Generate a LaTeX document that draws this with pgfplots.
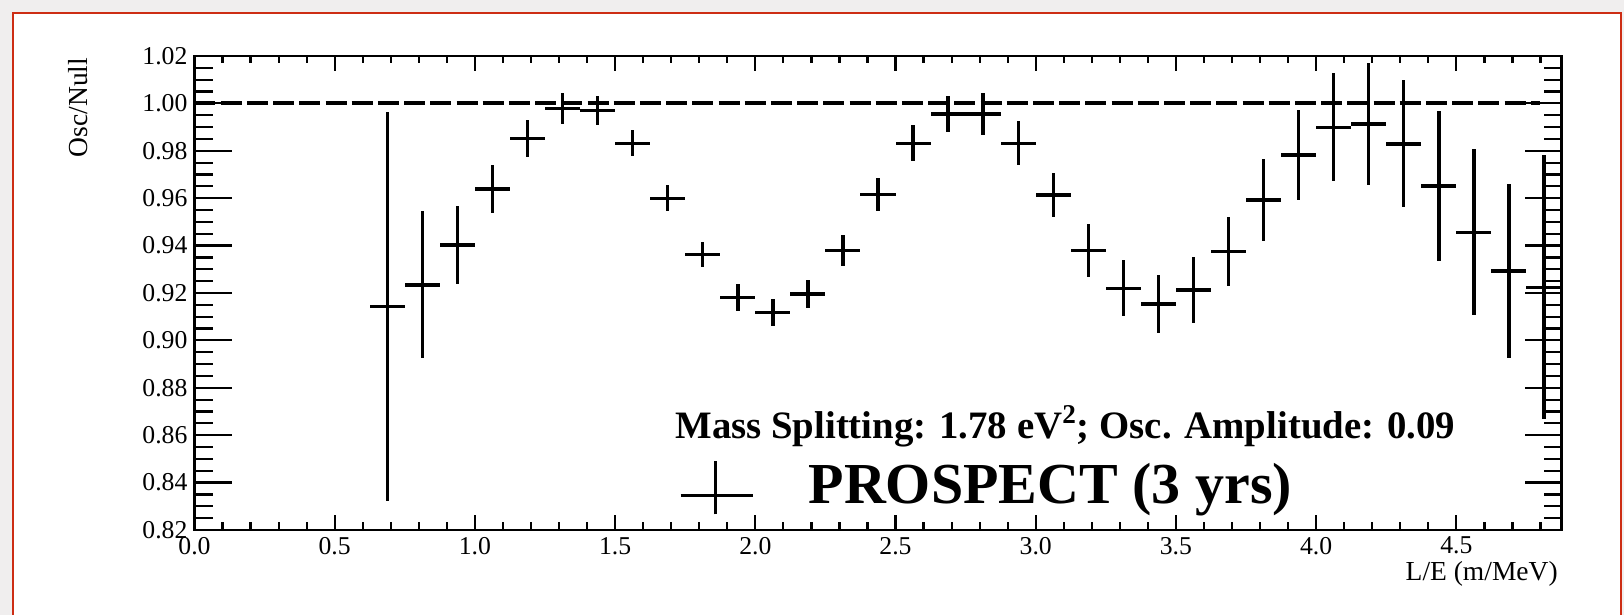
\documentclass[border=0pt]{standalone}
\usepackage{pgfplots}
\pgfplotsset{compat=1.18}
\usepackage{pgfplotstable}
\usepackage{fontspec}
\setmainfont{Liberation Serif}
\definecolor{rootred}{RGB}{205,45,20}
\definecolor{outergray}{RGB}{240,238,238}
\pgfplotstableread{
x y e
0.6875 0.9142 0.0820
0.8125 0.9234 0.0310
0.9375 0.9403 0.0165
1.0625 0.9639 0.0102
1.1875 0.9853 0.0079
1.3125 0.9979 0.0066
1.4375 0.9969 0.0061
1.5625 0.9832 0.0055
1.6875 0.9599 0.0055
1.8125 0.9363 0.0054
1.9375 0.9182 0.0056
2.0625 0.9118 0.0056
2.1875 0.9196 0.0060
2.3125 0.9379 0.0064
2.4375 0.9616 0.0068
2.5625 0.9832 0.0075
2.6875 0.9955 0.0077
2.8125 0.9955 0.0089
2.9375 0.9832 0.0093
3.0625 0.9613 0.0093
3.1875 0.9379 0.0110
3.3125 0.9220 0.0118
3.4375 0.9154 0.0123
3.5625 0.9213 0.0140
3.6875 0.9376 0.0145
3.8125 0.9592 0.0172
3.9375 0.9782 0.0190
4.0625 0.9899 0.0228
4.1875 0.9913 0.0257
4.3125 0.9829 0.0268
4.4375 0.9651 0.0317
4.5625 0.9456 0.0350
4.6875 0.9293 0.0366
4.8125 0.9224 0.0557
}\datatable
\pgfplotsset{rootaxis/.style={
  scale only axis, width=683.5pt, height=237pt,
  xmin=0, xmax=4.875, ymin=0.82, ymax=1.02,
  at={(97.25pt,42.5pt)}, anchor=south west,
  axis line style={line width=1.3pt, black},
  tick style={line width=1.1pt, black},
  tick align=inside,
  tick label style={font=\fontsize{12.85}{14}\selectfont},
}}
\begin{document}
\begin{tikzpicture}
\useasboundingbox (0pt,0pt) rectangle (812pt,307.5pt);
\clip (0pt,0pt) rectangle (812pt,307.5pt);
\fill[outergray] (0pt,0pt) rectangle (812pt,307.5pt);
\filldraw[fill=white, draw=rootred, line width=1pt] (6.65pt,-5pt) rectangle (810.5pt,300.85pt);
% x ticks axis
\begin{axis}[rootaxis,
  ytick=\empty,
  xtick={0,0.5,1,1.5,2,2.5,3,3.5,4,4.5},
  minor xtick={0.1,0.2,0.3,0.4,0.6,0.7,0.8,0.9,1.1,1.2,1.3,1.4,1.6,1.7,1.8,1.9,2.1,2.2,2.3,2.4,2.6,2.7,2.8,2.9,3.1,3.2,3.3,3.4,3.6,3.7,3.8,3.9,4.1,4.2,4.3,4.4,4.6,4.7,4.8},
  major tick length=7.5pt, minor tick length=3.75pt,
  xticklabel style={/pgf/number format/.cd, fixed, fixed zerofill, precision=1, assume math mode=true},
  xlabel={L/E (m/MeV)},
  xlabel style={at={(rel axis cs:0.9975,-0.107)}, anchor=base east, inner sep=0pt, font=\fontsize{13.75}{15}\selectfont},
]
\end{axis}
% y ticks axis with data
\begin{axis}[rootaxis,
  xtick=\empty,
  ytick={0.82,0.84,0.86,0.88,0.90,0.92,0.94,0.96,0.98,1.00,1.02},
  minor y tick num=3,
  major tick length=18.5pt, minor tick length=9pt,
  yticklabel style={/pgf/number format/.cd, fixed, fixed zerofill, precision=2, assume math mode=true},
  ylabel={Osc/Null},
  ylabel style={at={(rel axis cs:-0.0786,0.8914)}, anchor=base, inner sep=0pt, font=\fontsize{13.75}{15}\selectfont},
  legend style={at={(rel axis cs:0.354,0.2011)}, anchor=north west, draw=none, fill=none, inner sep=0pt, nodes={inner sep=0pt}, font=\fontsize{29}{32}\selectfont\bfseries},
  legend cell align=left,
]
\addplot[forget plot, black, line width=2pt, dash pattern=on 10.5pt off 2.6pt] coordinates {(0,1) (4.8,1)};
\addplot[draw=none, mark=none,
  legend image code/.code={
    \draw[line width=1.8pt, black] (0pt,-5.15pt) -- (36pt,-5.15pt);
    \draw[line width=1.8pt, black] (17.5pt,-14.65pt) -- (17.5pt,11.85pt);
    \path (0pt,25pt) (64pt,0pt);
  },
  error bars/.cd, x dir=both, x fixed=0.0625, y dir=both, y explicit, error mark=none,
  error bar style={draw=black, line width=1.7pt}]
  table[x=x, y=y, y error=e] {\datatable};
\addlegendentry{PROSPECT (3 yrs)}
\end{axis}
\node[anchor=base west, inner sep=0pt, font=\fontsize{19.4}{22}\selectfont\bfseries] at (337.5pt,88.35pt) {Mass Splitting: 1.78 eV\textsuperscript{2}; Osc. Amplitude: 0.09};
\end{tikzpicture}
\end{document}
